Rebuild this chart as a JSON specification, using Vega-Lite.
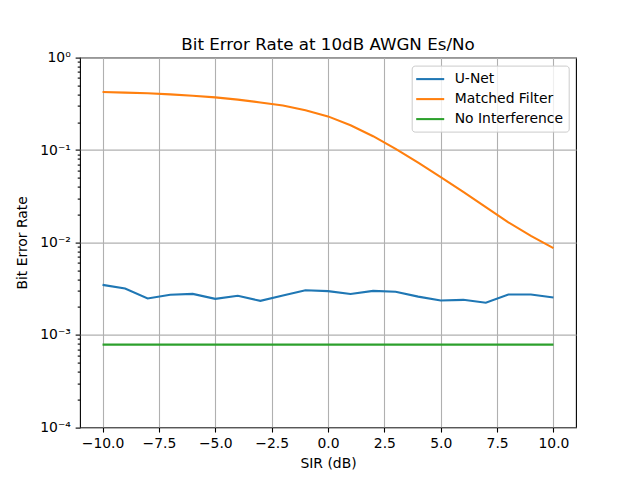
{
  "$schema": "https://vega.github.io/schema/vega-lite/v6.json",
  "autosize": "none",
  "width": 496,
  "height": 369.6,
  "padding": {"left": 80, "top": 57.6, "right": 64, "bottom": 52.8},
  "background": "white",
  "title": {"text": "Bit Error Rate at 10dB AWGN Es/No", "fontSize": 16.7, "font": "DejaVu Sans", "fontWeight": "normal", "color": "black", "offset": -3},
  "data": {"values": [
    {"sir": -10, "ber": 0.00347, "series": "U-Net"},
    {"sir": -9, "ber": 0.00317, "series": "U-Net"},
    {"sir": -8, "ber": 0.00247, "series": "U-Net"},
    {"sir": -7, "ber": 0.00271, "series": "U-Net"},
    {"sir": -6, "ber": 0.00277, "series": "U-Net"},
    {"sir": -5, "ber": 0.00245, "series": "U-Net"},
    {"sir": -4, "ber": 0.00264, "series": "U-Net"},
    {"sir": -3, "ber": 0.00233, "series": "U-Net"},
    {"sir": -2, "ber": 0.00266, "series": "U-Net"},
    {"sir": -1, "ber": 0.00304, "series": "U-Net"},
    {"sir": 0, "ber": 0.00297, "series": "U-Net"},
    {"sir": 1, "ber": 0.00277, "series": "U-Net"},
    {"sir": 2, "ber": 0.00299, "series": "U-Net"},
    {"sir": 3, "ber": 0.00292, "series": "U-Net"},
    {"sir": 4, "ber": 0.00259, "series": "U-Net"},
    {"sir": 5, "ber": 0.00235, "series": "U-Net"},
    {"sir": 6, "ber": 0.00239, "series": "U-Net"},
    {"sir": 7, "ber": 0.00222, "series": "U-Net"},
    {"sir": 8, "ber": 0.00273, "series": "U-Net"},
    {"sir": 9, "ber": 0.00273, "series": "U-Net"},
    {"sir": 10, "ber": 0.00253, "series": "U-Net"},
    {"sir": -10, "ber": 0.425, "series": "Matched Filter"},
    {"sir": -9, "ber": 0.418, "series": "Matched Filter"},
    {"sir": -8, "ber": 0.411, "series": "Matched Filter"},
    {"sir": -7, "ber": 0.400, "series": "Matched Filter"},
    {"sir": -6, "ber": 0.386, "series": "Matched Filter"},
    {"sir": -5, "ber": 0.371, "series": "Matched Filter"},
    {"sir": -4, "ber": 0.351, "series": "Matched Filter"},
    {"sir": -3, "ber": 0.327, "series": "Matched Filter"},
    {"sir": -2, "ber": 0.303, "series": "Matched Filter"},
    {"sir": -1, "ber": 0.269, "series": "Matched Filter"},
    {"sir": 0, "ber": 0.231, "series": "Matched Filter"},
    {"sir": 1, "ber": 0.185, "series": "Matched Filter"},
    {"sir": 2, "ber": 0.141, "series": "Matched Filter"},
    {"sir": 3, "ber": 0.1027, "series": "Matched Filter"},
    {"sir": 4, "ber": 0.0729, "series": "Matched Filter"},
    {"sir": 5, "ber": 0.0510, "series": "Matched Filter"},
    {"sir": 6, "ber": 0.0353, "series": "Matched Filter"},
    {"sir": 7, "ber": 0.0241, "series": "Matched Filter"},
    {"sir": 8, "ber": 0.0165, "series": "Matched Filter"},
    {"sir": 9, "ber": 0.01176, "series": "Matched Filter"},
    {"sir": 10, "ber": 0.00868, "series": "Matched Filter"},
    {"sir": -10, "ber": 0.000783, "series": "No Interference"},
    {"sir": -9, "ber": 0.000783, "series": "No Interference"},
    {"sir": -8, "ber": 0.000783, "series": "No Interference"},
    {"sir": -7, "ber": 0.000783, "series": "No Interference"},
    {"sir": -6, "ber": 0.000783, "series": "No Interference"},
    {"sir": -5, "ber": 0.000783, "series": "No Interference"},
    {"sir": -4, "ber": 0.000783, "series": "No Interference"},
    {"sir": -3, "ber": 0.000783, "series": "No Interference"},
    {"sir": -2, "ber": 0.000783, "series": "No Interference"},
    {"sir": -1, "ber": 0.000783, "series": "No Interference"},
    {"sir": 0, "ber": 0.000783, "series": "No Interference"},
    {"sir": 1, "ber": 0.000783, "series": "No Interference"},
    {"sir": 2, "ber": 0.000783, "series": "No Interference"},
    {"sir": 3, "ber": 0.000783, "series": "No Interference"},
    {"sir": 4, "ber": 0.000783, "series": "No Interference"},
    {"sir": 5, "ber": 0.000783, "series": "No Interference"},
    {"sir": 6, "ber": 0.000783, "series": "No Interference"},
    {"sir": 7, "ber": 0.000783, "series": "No Interference"},
    {"sir": 8, "ber": 0.000783, "series": "No Interference"},
    {"sir": 9, "ber": 0.000783, "series": "No Interference"},
    {"sir": 10, "ber": 0.000783, "series": "No Interference"}
  ]},
  "mark": {"type": "line", "strokeWidth": 2.08, "clip": true},
  "encoding": {
    "x": {
      "field": "sir", "type": "quantitative", "title": "SIR (dB)",
      "scale": {"domain": [-11, 11], "nice": false, "zero": false},
      "axis": {
        "values": [-10, -7.5, -5, -2.5, 0, 2.5, 5, 7.5, 10],
        "format": ".1f",
        "titlePadding": 6
      }
    },
    "y": {
      "field": "ber", "type": "quantitative", "title": "Bit Error Rate",
      "scale": {"type": "log", "domain": [0.0001, 1], "nice": false},
      "axis": {
        "values": [0.0001, 0.0002, 0.0003, 0.0004, 0.0005, 0.0006, 0.0007, 0.0008, 0.0009,
                   0.001, 0.002, 0.003, 0.004, 0.005, 0.006, 0.007, 0.008, 0.009,
                   0.01, 0.02, 0.03, 0.04, 0.05, 0.06, 0.07, 0.08, 0.09,
                   0.1, 0.2, 0.3, 0.4, 0.5, 0.6, 0.7, 0.8, 0.9, 1],
        "labelExpr": "abs(log(datum.value)/LN10 - round(log(datum.value)/LN10)) > 0.001 ? '' : datum.value > 0.5 ? '10⁰' : datum.value > 0.05 ? '10⁻¹' : datum.value > 0.005 ? '10⁻²' : datum.value > 0.0005 ? '10⁻³' : '10⁻⁴'",
        "tickSize": {"condition": {"test": "abs(log(datum.value)/LN10 - round(log(datum.value)/LN10)) < 0.001", "value": 4.86}, "value": 2.78},
        "gridOpacity": {"condition": {"test": "abs(log(datum.value)/LN10 - round(log(datum.value)/LN10)) < 0.001", "value": 1}, "value": 0},
        "labelPadding": 4.86,
        "titlePadding": 10
      }
    },
    "color": {
      "field": "series", "type": "nominal",
      "scale": {"domain": ["U-Net", "Matched Filter", "No Interference"], "range": ["#1f77b4", "#ff7f0e", "#2ca02c"]},
      "legend": {
        "orient": "none", "legendX": 331.7, "legendY": 8, "title": null,
        "symbolType": "M-2,0H2", "symbolSize": 196, "symbolStrokeWidth": 2.08,
        "labelFontSize": 13.9, "labelFont": "DejaVu Sans", "labelColor": "black",
        "strokeColor": "#cccccc", "fillColor": "rgba(255,255,255,0.8)", "cornerRadius": 3,
        "padding": 5, "symbolOffset": 5, "labelOffset": 16, "rowPadding": 4
      }
    }
  },
  "config": {
    "view": {"stroke": "black", "strokeWidth": 1.1},
    "font": "DejaVu Sans",
    "axis": {
      "domain": false,
      "grid": true, "gridColor": "#b0b0b0", "gridWidth": 1.1,
      "tickColor": "black", "tickWidth": 1.1, "tickSize": 4.86,
      "labelFont": "DejaVu Sans", "labelFontSize": 13.9, "labelColor": "black", "labelPadding": 4.86,
      "titleFont": "DejaVu Sans", "titleFontSize": 13.9, "titleFontWeight": "normal", "titleColor": "black",
      "labelFlush": false, "labelOverlap": false
    }
  }
}
